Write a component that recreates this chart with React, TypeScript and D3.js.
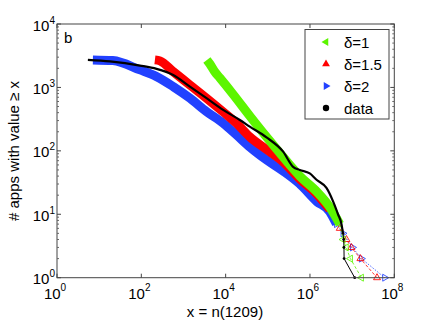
import React from 'react';
import * as d3 from 'd3';

// values: x = n(1209), y = # apps with value >= x
const dataX = [5.4, 18, 93, 230, 570, 1420, 3520, 8730, 21700, 37400, 93100, 231000, 398000, 573000, 989000, 1.43e6, 2.46e6, 3.53e6, 4.63e6, 5.58e6, 6.08e6, 6.3e6, 6.4e6, 6.45e6, 1.15e7];
const dataY = [2716, 2570, 2210, 1960, 1570, 1030, 676, 442, 307, 241, 163, 97, 56, 50, 44, 35, 26, 16, 10, 7, 5, 4, 3, 2, 1];

const d2X = [7.1, 21, 93, 230, 570, 1420, 3520, 8730, 18100, 37400, 93100, 231000, 573000, 1.43e6, 2.94e6, 4.25e6, 6.08e6, 1.02e7, 1.66e7, 5.93e7];
const d2Y = [2716, 2650, 1890, 1480, 1030, 676, 415, 272, 178, 115, 72, 48, 30, 16, 11, 7, 5, 3, 2, 1];

const d15X = [210, 276, 570, 1420, 3520, 8730, 18100, 37400, 93100, 231000, 573000, 1.43e6, 2.94e6, 5.08e6, 7.33e6, 9.6e6, 1.57e7, 3.89e7];
const d15Y = [2716, 2620, 1775, 1095, 676, 411, 272, 166, 105, 67, 36, 21, 12, 6, 4, 3, 2, 1];

const d1X = [3590, 4220, 5550, 7290, 14800, 37400, 93100, 192000, 332000, 573000, 1.43e6, 2.94e6, 5.08e6, 6.09e6, 7.24e6, 9.1e6, 1.66e7];
const d1Y = [2716, 2350, 1755, 1413, 789, 355, 166, 93, 60, 40, 23, 13, 7, 4, 3, 2, 1];

const xTicks = [1, 1e2, 1e4, 1e6, 1e8];
const xTickExp = ['0', '2', '4', '6', '8'];
const yTicks = [1, 10, 100, 1000, 10000];
const yTickExp = ['0', '1', '2', '3', '4'];

const legendLabels = ['\u03b4=1', '\u03b4=1.5', '\u03b4=2', 'data'];

const GREEN = '#5cf500';
const RED = '#ff0000';
const BLUE = '#2241ff';
const FONT = '"Liberation Sans", Arial, Helvetica, sans-serif';

const W = 436;
const H = 323;
const left = 57, right = 394.3, top = 24, bottom = 277.7;

// triangle marker, dir: 'up' | 'left' | 'right'
const tri = (dir: string, s: number) => {
  const a = s, b = s * 0.87, c = s * 0.5;
  if (dir === 'up') return `M0,${-a}L${b},${c}L${-b},${c}Z`;
  if (dir === 'left') return `M${-a},0L${c},${-b}L${c},${b}Z`;
  return `M${a},0L${-c},${-b}L${-c},${b}Z`;
};

const App = () => {
  const x = d3.scaleLog().domain([1, 1e8]).range([left, right]);
  const y = d3.scaleLog().domain([1, 1e4]).range([bottom, top]);

  const smooth = d3
    .line<[number, number]>()
    .x((d) => x(d[0]))
    .y((d) => y(d[1]))
    .curve(d3.curveMonotoneX);
  const line = d3
    .line<[number, number]>()
    .x((d) => x(d[0]))
    .y((d) => y(d[1]));

  const zip = (xs: number[], ys: number[]) => xs.map((v, i) => [v, ys[i]] as [number, number]);

  const series = [
    { pts: zip(d2X, d2Y), color: BLUE, dir: 'right', dash: '1.5,1.5' },
    { pts: zip(d15X, d15Y), color: RED, dir: 'up', dash: '3,2' },
    { pts: zip(d1X, d1Y), color: GREEN, dir: 'left', dash: '3,2' },
  ];

  const black = zip(dataX, dataY);

  const minor: number[] = [];
  for (let d = 0; d < 4; d++) {
    for (let k = 2; k <= 9; k++) minor.push(k * Math.pow(10, d));
  }

  const legendMarkers = [
    { color: GREEN, dir: 'left' },
    { color: RED, dir: 'up' },
    { color: BLUE, dir: 'right' },
    { color: '#000', dir: 'dot' },
  ];

  return (
    <svg width={W} height={H} style={{ position: 'absolute', left: 0, top: 0, background: '#fff' }}>
      <rect x={0} y={0} width={W} height={H} fill="#fff" />

      {/* model series: dense part as band, sparse tail as hollow markers */}
      {series.map((s, i) => {
        const dense = s.pts.filter((p) => p[1] >= 7);
        const tail = s.pts.filter((p) => p[1] <= 7);
        const scattered = s.pts.filter((p) => p[1] <= 40);
        return (
          <g key={i}>
            <path d={smooth(dense) || ''} fill="none" stroke={s.color} strokeWidth={9} strokeLinejoin="round" />
            <path d={line(tail) || ''} fill="none" stroke={s.color} strokeWidth={1} strokeDasharray={s.dash} opacity={0.8} />
            {scattered.map((p, j) => (
              <path
                key={j}
                d={tri(s.dir, 4)}
                transform={`translate(${x(p[0])},${y(p[1])})`}
                fill="none"
                stroke={s.color}
                strokeWidth={1}
                opacity={0.85}
              />
            ))}
          </g>
        );
      })}

      {/* data */}
      <path d={smooth(black.filter((p) => p[1] >= 5)) || ''} fill="none" stroke="#000" strokeWidth={2.2} strokeLinejoin="round" />
      <path d={line(black.filter((p) => p[1] <= 5)) || ''} fill="none" stroke="#000" strokeWidth={1} />
      {black
        .filter((p) => p[1] <= 5)
        .map((p, i) => (
          <circle key={i} cx={x(p[0])} cy={y(p[1])} r={1.4} fill="#000" />
        ))}

      {/* axes box */}
      <rect x={left} y={top} width={right - left} height={bottom - top} fill="none" stroke="#444" strokeWidth={1} />

      {xTicks.map((t, i) => (
        <g key={i}>
          <line x1={x(t)} x2={x(t)} y1={bottom} y2={bottom - 4} stroke="#444" />
          <line x1={x(t)} x2={x(t)} y1={top} y2={top + 4} stroke="#444" />
          <text x={x(t) - 2} y={299} textAnchor="middle" fontFamily={FONT} fontSize={15} fill="#000">
            10<tspan dy={-8} fontSize={10}>{xTickExp[i]}</tspan>
          </text>
        </g>
      ))}

      {yTicks.map((t, i) => (
        <g key={i}>
          <line x1={left} x2={left + 4} y1={y(t)} y2={y(t)} stroke="#444" />
          <line x1={right} x2={right - 4} y1={y(t)} y2={y(t)} stroke="#444" />
          <text x={55} y={y(t) + 6.5} textAnchor="end" fontFamily={FONT} fontSize={15} fill="#000">
            10<tspan dy={-7} fontSize={10}>{yTickExp[i]}</tspan>
          </text>
        </g>
      ))}

      {minor.map((t, i) => (
        <g key={i}>
          <line x1={left} x2={left + 2} y1={y(t)} y2={y(t)} stroke="#666" />
          <line x1={right} x2={right - 2} y1={y(t)} y2={y(t)} stroke="#666" />
        </g>
      ))}

      <text x={64} y={43} fontFamily={FONT} fontSize={15} fill="#000">b</text>

      {/* legend */}
      <rect x={305} y={29.5} width={84} height={89.5} fill="#fff" stroke="#444" strokeWidth={1} />
      {legendLabels.map((lab, i) => {
        const cy = 42 + i * 22;
        const m = legendMarkers[i];
        return (
          <g key={i}>
            {m.dir === 'dot' ? (
              <circle cx={326} cy={cy} r={3.2} fill="#000" />
            ) : (
              <path d={tri(m.dir, 4.5)} transform={`translate(326,${cy})`} fill={m.color} />
            )}
            <text x={344} y={cy + 5.5} fontFamily={FONT} fontSize={15} fill="#000">
              {lab}
            </text>
          </g>
        );
      })}

      <text x={225} y={317} textAnchor="middle" fontFamily={FONT} fontSize={15} fill="#000">
        x = n(1209)
      </text>
      <text
        transform="translate(19,151) rotate(-90)"
        textAnchor="middle"
        fontFamily={FONT}
        fontSize={15}
        fill="#000"
      >
        # apps with value {'\u2265'} x
      </text>
    </svg>
  );
};

export default App;
